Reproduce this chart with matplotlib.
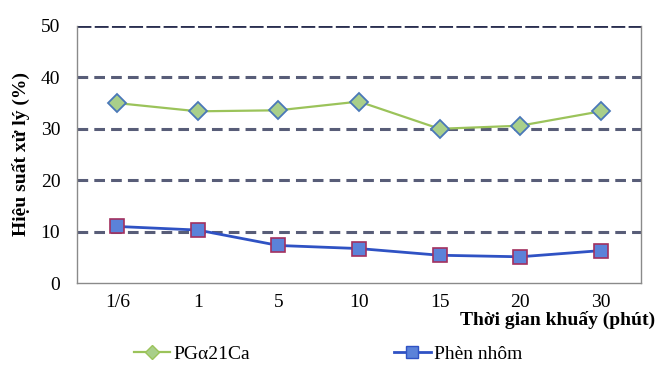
import matplotlib
matplotlib.use("Agg")
import matplotlib.pyplot as plt
from matplotlib.lines import Line2D

categories = ["1/6", "1", "5", "10", "15", "20", "30"]
pg_values = [35.0, 33.4, 33.6, 35.3, 30.0, 30.6, 33.4]
phen_values = [11.0, 10.3, 7.3, 6.7, 5.4, 5.1, 6.3]
y_ticks = [0, 10, 20, 30, 40, 50]

GRID = "#585d78"
GREEN = "#9bc35a"
GREEN_FILL = "#a9cf8a"
BLUE = "#2f52c4"
BLUE_FILL = "#5b82d9"
MARK_EDGE_G = "#4a78b8"
MARK_EDGE_B = "#a2305f"

plt.rcParams["font.family"] = ["Liberation Serif", "DejaVu Serif"]

fig = plt.figure(figsize=(6.58, 3.72), dpi=100)
ax = fig.add_axes([77 / 658, 1 - 283 / 372, (641 - 77) / 658, (283 - 26) / 372])

x = range(len(categories))
ax.plot(x, pg_values, color=GREEN, lw=1.6, marker="D", ms=9,
        markerfacecolor=GREEN_FILL, markeredgecolor=MARK_EDGE_G, markeredgewidth=1.3, zorder=3)
ax.plot(x, phen_values, color=BLUE, lw=2.0, marker="s", ms=10,
        markerfacecolor=BLUE_FILL, markeredgecolor=MARK_EDGE_B, markeredgewidth=1.2, zorder=3)

ax.set_xlim(-0.5, len(categories) - 0.5)
ax.set_ylim(0, 50)
ax.set_yticks(y_ticks)
ax.set_xticks(list(x), categories)
for v in y_ticks[1:-1]:
    ax.axhline(v, color=GRID, lw=2.2, ls=(0, (3.5, 2)), zorder=1)
ax.axhline(50, color="#2a2f50", lw=2.0, ls=(0, (5, 1.2)), zorder=1)

ax.tick_params(length=0, labelsize=14)
ax.tick_params(axis="x", pad=8)
ax.tick_params(axis="y", pad=12)
for side in ("left", "right", "bottom"):
    ax.spines[side].set_color("#8a8a8a")
    ax.spines[side].set_linewidth(1.0)
ax.spines["top"].set_visible(False)

ax.set_ylabel("Hiệu suất xử lý (%)", fontsize=14, fontweight="bold", labelpad=8)
fig.text(655 / 658, 1 - 320 / 372, "Thời gian khuấy (phút)", ha="right", va="center",
         fontsize=14, fontweight="bold")

handles = [
    Line2D([0], [0], color=GREEN, lw=1.6, marker="D", ms=7,
           markerfacecolor=GREEN_FILL, markeredgecolor=GREEN),
    Line2D([0], [0], color=BLUE, lw=2.0, marker="s", ms=8,
           markerfacecolor=BLUE_FILL, markeredgecolor=BLUE),
]
fig.legend(handles, ["PGα21Ca", "Phèn nhôm"], loc="center left",
           bbox_to_anchor=(116 / 658, 1 - 354 / 372), ncol=2, frameon=False,
           fontsize=14, handlelength=1.9, handletextpad=0.15, columnspacing=7.4)

fig.savefig("out.png", dpi=100)
